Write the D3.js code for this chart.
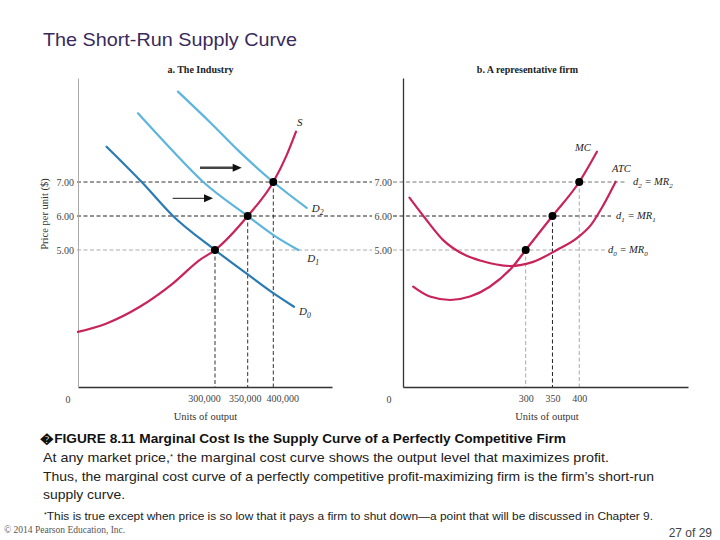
<!DOCTYPE html>
<html><head><meta charset="utf-8">
<script src="https://cdn.jsdelivr.net/npm/d3@7"></script>
<style>body{margin:0;background:#fff}</style>
</head><body><svg id="c" width="720" height="540"></svg>
<script>
// ---- data ----
const prices = [5, 6, 7];
const priceLabels = ["5.00", "6.00", "7.00"];
const industryQty = [300000, 350000, 400000];
const industryQtyLabels = ["300,000", "350,000", "400,000"];
const firmQty = [300, 350, 400];
const firmQtyLabels = ["300", "350", "400"];

const supplyQ = [65000, 114000, 171000, 228000, 274000, 300000, 350000, 400000, 422800, 438700];
const supplyP = [2.59, 2.84, 3.33, 4.02, 4.71, 5, 6, 7, 7.79, 8.48];
const d0Q = [114000, 174300, 228000, 300000, 348000, 400000, 435300];
const d0P = [8.04, 7.0, 6.0, 5, 4.31, 3.73, 3.33];
const d1Q = [167900, 222800, 279900, 350000, 402900, 442600];
const d1P = [9.02, 8.0, 7, 6, 5.41, 5];
const d2Q = [236500, 291400, 338200, 400000, 456900];
const d2P = [9.66, 8.76, 7.88, 7, 6.24];
const mcQ = [90, 121, 159, 196, 233, 277, 300, 350, 400, 433];
const mcP = [3.92, 3.63, 3.53, 3.63, 3.92, 4.53, 5, 6, 7, 7.89];
const atcQ = [83, 112, 146, 187, 215, 271, 314, 358, 395, 423, 445, 468];
const atcP = [6.54, 5.94, 5.29, 4.85, 4.69, 4.53, 4.65, 5, 5.34, 5.76, 6.32, 7.01];
const arrowsQ = [[274300, 340800], [227400, 296600]];
const arrowsP = [7.42, 6.52];

const captionTitle = "\uFFFDFIGURE 8.11 Marginal Cost Is the Supply Curve of a Perfectly Competitive Firm";
const captionLines = [
  ["At any market price,", "*", " the marginal cost curve shows the output level that maximizes profit."],
  ["Thus, the marginal cost curve of a perfectly competitive profit-maximizing firm is the firm\u2019s short-run"],
  ["supply curve."]
];
const footnote = "This is true except when price is so low that it pays a firm to shut down\u2014a point that will be discussed in Chapter 9.";

// ---- setup ----
const svg = d3.select("#c");
const serif = "'Liberation Serif','DejaVu Serif',serif";
const sans = "'Liberation Sans',Arial,sans-serif";
const RED = "#c8245a", DBLUE = "#2a7bb3", LBLUE = "#5db5de";

svg.append("text").attr("x", 43).attr("y", 46).attr("font-family", sans)
  .attr("font-size", 18.5).attr("fill", "#3a2a5c").attr("textLength", 254).attr("lengthAdjust", "spacingAndGlyphs")
  .text("The Short-Run Supply Curve");

const y = d3.scaleLinear().domain([0.97, 10.06]).range([387, 78]);
const xL = d3.scaleLinear().domain([65000, 300000, 350000, 400000, 500000]).range([78, 215, 247.7, 273.3, 332]);
const xR = d3.scaleLinear().domain([71, 603]).range([403, 688]);

function dashed(x1, y1, x2, y2, color) {
  svg.append("line").attr("x1", x1).attr("y1", y1).attr("x2", x2).attr("y2", y2)
    .attr("stroke", color).attr("stroke-width", 1).attr("stroke-dasharray", "4,2.5");
}
function curve(qs, ps, x, color, w) {
  const line = d3.line().x(d => x(d[0])).y(d => y(d[1])).curve(d3.curveMonotoneX);
  svg.append("path").attr("d", line(qs.map((q, i) => [q, ps[i]])))
    .attr("fill", "none").attr("stroke", color).attr("stroke-width", w).attr("stroke-linecap", "round");
}
function label(x0, y0, main, sub, size, anchor) {
  const t = svg.append("text").attr("x", x0).attr("y", y0).attr("font-family", serif)
    .attr("font-style", "italic").attr("font-size", size).attr("fill", "#222")
    .attr("text-anchor", anchor || "start");
  t.append("tspan").text(main);
  if (sub !== null && sub !== undefined) t.append("tspan").attr("font-size", size * 0.7).attr("dy", 3).text(sub);
  return t;
}

// ---- left panel: guides ----
const hColorsL = ["#aaa", "#222", "#333"];
prices.forEach((p, i) => dashed(77, y(p), 372, y(p), hColorsL[i]));
industryQty.forEach((q, i) => dashed(xL(q), y(prices[i]), xL(q), 387, "#333"));

// axes left
const axL = svg.append("g").attr("transform", "translate(0,387)")
  .call(d3.axisBottom(xL).tickValues(industryQty).tickFormat((d, i) => industryQtyLabels[i]).tickSize(0).tickPadding(8));
axL.select(".domain").attr("stroke", "#333").attr("stroke-width", 1.3);
axL.selectAll("text").attr("font-family", serif).attr("font-size", 10).attr("fill", "#444")
  .attr("dx", (d, i) => [-11, -3, 9][i]);
const ayL = svg.append("g").attr("transform", "translate(78,0)")
  .call(d3.axisLeft(y).tickValues(prices).tickFormat((d, i) => priceLabels[i]).tickSize(0).tickPadding(4));
ayL.select(".domain").attr("stroke", "#aaa").attr("stroke-width", 1);
ayL.selectAll("text").attr("font-family", serif).attr("font-size", 10).attr("fill", "#444");

// curves left
curve(d0Q, d0P, xL, DBLUE, 2.2);
curve(d1Q, d1P, xL, LBLUE, 2.2);
curve(d2Q, d2P, xL, LBLUE, 2.2);
curve(supplyQ, supplyP, xL, RED, 2.2);

// arrows
arrowsQ.forEach((a, i) => {
  const yy = y(arrowsP[i]), x1 = xL(a[0]), x2 = xL(a[1]);
  const w = i === 0 ? 2.4 : 1.2;
  svg.append("line").attr("x1", x1).attr("y1", yy).attr("x2", x2 - 7).attr("y2", yy)
    .attr("stroke", "#444").attr("stroke-width", w);
  svg.append("path").attr("d", `M${x2},${yy} L${x2 - 9},${yy - 4} L${x2 - 9},${yy + 4} Z`).attr("fill", "#111");
});

// dots left
industryQty.forEach((q, i) => svg.append("circle").attr("cx", xL(q)).attr("cy", y(prices[i])).attr("r", 4).attr("fill", "#000"));

// labels left
label(xL(supplyQ[supplyQ.length - 1]) + 1, y(supplyP[supplyP.length - 1]) - 6, "S", null, 11);
label(xL(d2Q[d2Q.length - 1]) + 5, y(d2P[d2P.length - 1]) + 4, "D", "2", 11);
label(xL(d1Q[d1Q.length - 1]) + 9, y(d1P[d1P.length - 1]) + 12, "D", "1", 11);
label(xL(d0Q[d0Q.length - 1]) + 5, y(d0P[d0P.length - 1]) + 8, "D", "0", 11);

svg.append("text").attr("x", 200.5).attr("y", 73).attr("text-anchor", "middle").attr("font-family", serif)
  .attr("font-weight", "bold").attr("font-size", 10).attr("fill", "#222").text("a. The Industry");
svg.append("text").attr("x", 68).attr("y", 403).attr("text-anchor", "middle").attr("font-family", serif)
  .attr("font-size", 10).attr("fill", "#444").text("0");
svg.append("text").attr("x", 205.5).attr("y", 420).attr("text-anchor", "middle").attr("font-family", serif)
  .attr("font-size", 10.5).attr("fill", "#333").text("Units of output");
svg.append("text").attr("transform", "translate(48,214) rotate(-90)").attr("text-anchor", "middle")
  .attr("font-family", serif).attr("font-size", 10.5).attr("fill", "#333").text("Price per unit ($)");

// ---- right panel ----
const hColorsR = ["#aaa", "#222", "#777"];
const hEndR = [605, 611, 626];
prices.forEach((p, i) => dashed(393, y(p), hEndR[i], y(p), hColorsR[i]));
const vColorsR = ["#aaa", "#222", "#aaa"];
firmQty.forEach((q, i) => dashed(xR(q), y(prices[i]), xR(q), 387, vColorsR[i]));

const axR = svg.append("g").attr("transform", "translate(0,387)")
  .call(d3.axisBottom(xR).tickValues(firmQty).tickFormat((d, i) => firmQtyLabels[i]).tickSize(0).tickPadding(8));
axR.select(".domain").attr("stroke", "#333").attr("stroke-width", 1.3);
axR.selectAll("text").attr("font-family", serif).attr("font-size", 10).attr("fill", "#444");
const ayR = svg.append("g").attr("transform", "translate(403,0)")
  .call(d3.axisLeft(y).tickValues(prices).tickFormat((d, i) => priceLabels[i]).tickSize(0).tickPadding(11));
ayR.select(".domain").attr("stroke", "#333").attr("stroke-width", 1.3);
ayR.selectAll("text").attr("font-family", serif).attr("font-size", 10).attr("fill", "#444");

curve(atcQ, atcP, xR, RED, 2.2);
curve(mcQ, mcP, xR, RED, 2.2);
firmQty.forEach((q, i) => svg.append("circle").attr("cx", xR(q)).attr("cy", y(prices[i])).attr("r", 4).attr("fill", "#000"));

label(575, 151, "MC", null, 10.5);
label(612, 172, "ATC", null, 10.5);
const mrLabelX = [608, 616, 633];
prices.forEach((p, i) => {
  const t = svg.append("text").attr("x", mrLabelX[i]).attr("y", y(p) + 3).attr("font-family", serif)
    .attr("font-style", "italic").attr("font-size", 10.5).attr("fill", "#222");
  t.append("tspan").text("d");
  t.append("tspan").attr("font-size", 7).attr("dy", 2.5).text(String(i));
  t.append("tspan").attr("dy", -2.5).text(" = MR");
  t.append("tspan").attr("font-size", 7).attr("dy", 2.5).text(String(i));
});

svg.append("text").attr("x", 527.5).attr("y", 73).attr("text-anchor", "middle").attr("font-family", serif)
  .attr("font-weight", "bold").attr("font-size", 10).attr("fill", "#222").text("b. A representative firm");
svg.append("text").attr("x", 389).attr("y", 403).attr("text-anchor", "middle").attr("font-family", serif)
  .attr("font-size", 10).attr("fill", "#444").text("0");
svg.append("text").attr("x", 547).attr("y", 420).attr("text-anchor", "middle").attr("font-family", serif)
  .attr("font-size", 10.5).attr("fill", "#333").text("Units of output");

// ---- caption ----
svg.append("text").attr("x", 40).attr("y", 443).attr("font-family", sans).attr("font-weight", "bold")
  .attr("font-size", 12.5).attr("fill", "#111").attr("textLength", 526).attr("lengthAdjust", "spacingAndGlyphs")
  .text(captionTitle);
const capY = [462, 481, 499];
const capLen = [566, 611, 82];
captionLines.forEach((parts, i) => {
  const t = svg.append("text").attr("x", 43).attr("y", capY[i]).attr("font-family", sans)
    .attr("font-size", 13).attr("fill", "#222").attr("textLength", capLen[i]).attr("lengthAdjust", "spacingAndGlyphs");
  parts.forEach(s => {
    if (s === "*") t.append("tspan").attr("font-size", 7).attr("dy", -3).text(s);
    else {
      const sp = t.append("tspan").text(s);
      if (parts.length > 1 && s !== parts[0]) sp.attr("dy", 3);
    }
  });
});
const fn = svg.append("text").attr("x", 44).attr("y", 520).attr("font-family", sans).attr("font-size", 11.5)
  .attr("fill", "#222").attr("textLength", 609).attr("lengthAdjust", "spacingAndGlyphs");
fn.append("tspan").attr("font-size", 7).attr("dy", -3).text("*");
fn.append("tspan").attr("dy", 3).text(footnote);
svg.append("text").attr("x", 4).attr("y", 533).attr("font-family", serif).attr("font-size", 9.5)
  .attr("fill", "#555").text("\u00A9 2014 Pearson Education, Inc.");
svg.append("text").attr("x", 712).attr("y", 537).attr("text-anchor", "end").attr("font-family", sans)
  .attr("font-size", 12).attr("fill", "#444").text("27 of 29");
</script></body></html>
